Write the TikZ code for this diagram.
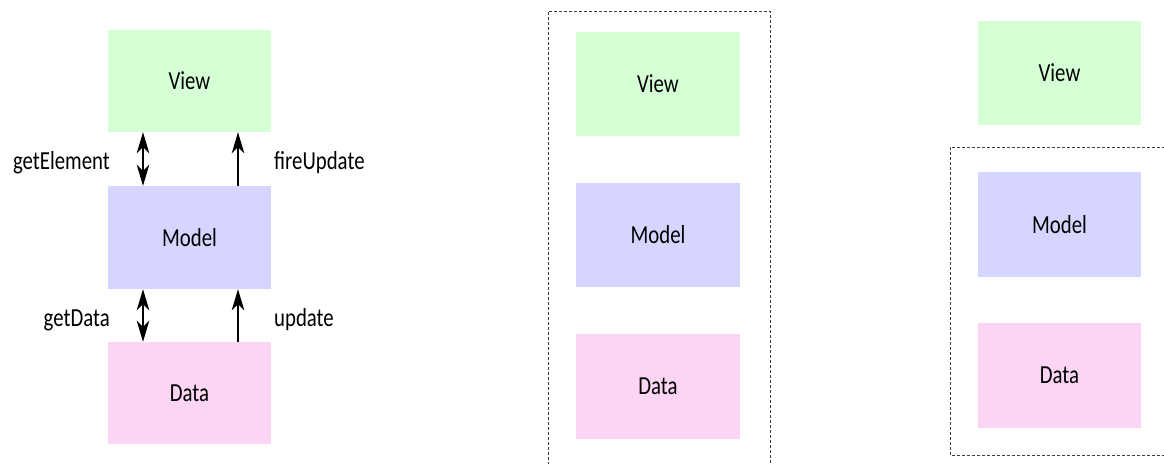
\documentclass[tikz,border=0pt]{standalone}
\usepackage{fontspec}
\setmainfont[FakeStretch=0.8]{Carlito}
\usetikzlibrary{arrows.meta}
\definecolor{vgreen}{RGB}{213,255,213}
\definecolor{mblue}{RGB}{213,213,255}
\definecolor{dpink}{RGB}{252,213,245}
\definecolor{dashgray}{RGB}{60,60,60}
\tikzset{
  box/.style={rectangle, draw=none, inner sep=0pt, minimum width=163pt, minimum height=103pt, font=\fontsize{26}{30}\selectfont},
  lbl/.style={inner sep=0pt, font=\fontsize{26}{30}\selectfont},
  frame/.style={draw=dashgray, line width=0.9pt, dash pattern=on 3pt off 2pt},
  tip/.tip={Stealth[length=21pt,width=12.5pt,inset=6pt]},
  conn/.style={line width=1.7pt, -tip},
  bconn/.style={line width=1.7pt, tip-tip}
}
\begin{document}
\begin{tikzpicture}[x=1pt,y=-1pt]
\useasboundingbox (0,0) rectangle (1164,463);
% left column
\node[box, fill=vgreen, minimum height=102pt] (v1) at (189.5,81) {View};
\node[box, fill=mblue] (m1) at (189.5,237.5) {Model};
\node[box, fill=dpink, minimum height=102pt] (d1) at (189.5,393) {Data};
\coordinate (xa) at (143,0);
\coordinate (xb) at (238,0);
\draw[bconn] (v1.south -| xa) -- (m1.north -| xa);
\draw[conn] (m1.north -| xb) -- (v1.south -| xb);
\draw[bconn] (m1.south -| xa) -- (d1.north -| xa);
\draw[conn] (d1.north -| xb) -- (m1.south -| xb);
\node[lbl, anchor=base east] (l1) at (110,169) {getElement};
\node[lbl, anchor=base west] (l2) at (274,169) {fireUpdate};
\node[lbl, anchor=base east] (l3) at (110,326) {getData};
\node[lbl, anchor=base west] (l4) at (274,326) {update};
% middle column
\draw[frame] (548,475) -- (548,11) -- (770,11) -- (770,475);
\node[box, fill=vgreen, minimum width=164pt, minimum height=104pt] (v2) at (658,84) {View};
\node[box, fill=mblue, minimum width=164pt, minimum height=104pt] (m2) at (658,235) {Model};
\node[box, fill=dpink, minimum width=164pt, minimum height=105pt] (d2) at (658,386.5) {Data};
% right column
\draw[frame] (1175,147) -- (950,147) -- (950,455) -- (1175,455);
\node[box, fill=vgreen, minimum height=104pt] (v3) at (1059.5,73) {View};
\node[box, fill=mblue, minimum height=105pt] (m3) at (1059.5,224.5) {Model};
\node[box, fill=dpink, minimum height=105pt] (d3) at (1059.5,375.5) {Data};
\end{tikzpicture}
\end{document}
